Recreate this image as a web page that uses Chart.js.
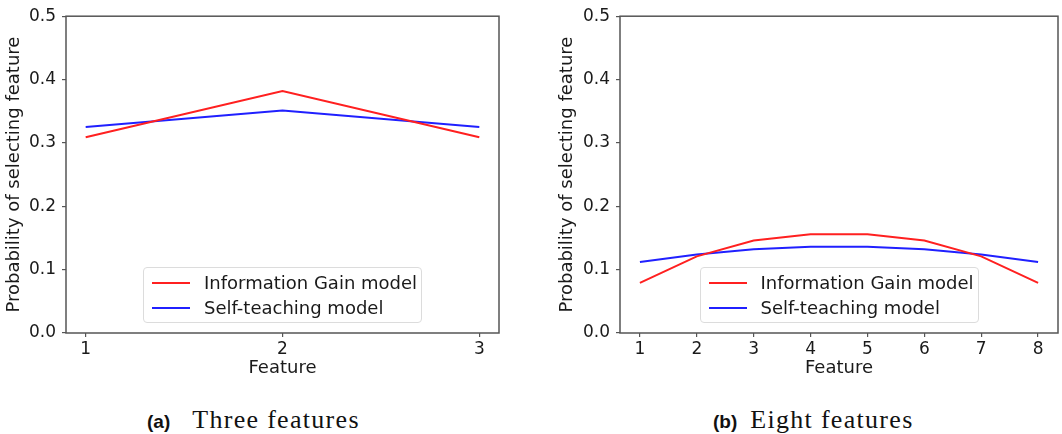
<!DOCTYPE html>
<html>
<head>
<meta charset="utf-8">
<script src="https://cdn.jsdelivr.net/npm/chart.js@4.4.1/dist/chart.umd.min.js"></script>
<style>
  html, body { margin: 0; padding: 0; background: #fff; }
  body { width: 1062px; height: 434px; position: relative; overflow: hidden; font-family: "DejaVu Sans", sans-serif; }
  .panel { position: absolute; top: 0; height: 390px; }
  #panelA { left: 0; width: 530px; }
  #panelB { left: 553px; width: 509px; }
  .legend { position: absolute; background: rgba(255, 255, 255, 0.8); border: 1px solid #dcdcdc; border-radius: 4px; padding: 2px 4px 2px 8px; font-size: 18px; color: #1a1a1a; }
  .legend .row { display: flex; align-items: center; height: 25px; white-space: nowrap; }
  .legend .swatch { width: 38px; height: 2px; margin-right: 14px; }
  .caption { position: absolute; top: 405px; white-space: nowrap; color: #111; }
  .caption b { font-family: "Liberation Sans", Arial, sans-serif; font-size: 19px; font-weight: bold; }
  .caption span { font-family: "Liberation Serif", serif; font-size: 26px; letter-spacing: 1.3px; margin-left: 22px; }
  .caption span.tight { margin-left: 13px; }
</style>
</head>
<body>
<div class="panel" id="panelA"><canvas id="chartA"></canvas></div>
<div class="panel" id="panelB"><canvas id="chartB"></canvas></div>
<div class="caption" style="left:147px"><b>(a)</b><span>Three features</span></div>
<div class="caption" style="left:713px"><b>(b)</b><span class="tight">Eight features</span></div>

<script>
  "use strict";

  // (a) three features
  const FEATURES_A = [1, 2, 3];
  const INFO_GAIN_A = [0.309, 0.382, 0.309];
  const SELF_TEACH_A = [0.325, 0.351, 0.325];

  // (b) eight features
  const FEATURES_B = [1, 2, 3, 4, 5, 6, 7, 8];
  const INFO_GAIN_B = [0.079, 0.121, 0.146, 0.156, 0.156, 0.146, 0.121, 0.079];
  const SELF_TEACH_B = [0.112, 0.124, 0.132, 0.136, 0.136, 0.132, 0.124, 0.112];

  const SERIES_LABELS = ["Information Gain model", "Self-teaching model"];
  const Y_TITLE = "Probability of selecting feature";
  const X_TITLE = "Feature";

  const colors = {
    red: "#ff2020",
    blue: "#2020ff",
    frame: "#555555",
    text: "#1a1a1a",
  };

  const FONT = "'DejaVu Sans', sans-serif";

  const framePlugin = {
    id: "frame",
    beforeDatasetsDraw(chart) {
      const { ctx, chartArea: a } = chart;
      ctx.save();
      ctx.strokeStyle = colors.frame;
      ctx.lineWidth = 1.5;
      ctx.strokeRect(a.left, a.top, a.right - a.left, a.bottom - a.top);
      ctx.restore();
    },
  };

  function toPoints(xs, ys) {
    return xs.map((x, i) => ({ x: x, y: ys[i] }));
  }

  function buildLegend(chart, panel) {
    const box = document.createElement("div");
    box.className = "legend";
    chart.data.datasets.forEach((ds) => {
      const row = document.createElement("div");
      row.className = "row";
      const sw = document.createElement("span");
      sw.className = "swatch";
      sw.style.background = ds.borderColor;
      const txt = document.createElement("span");
      txt.textContent = ds.label;
      row.appendChild(sw);
      row.appendChild(txt);
      box.appendChild(row);
    });
    panel.appendChild(box);
    const a = chart.chartArea;
    const w = box.offsetWidth;
    const h = box.offsetHeight;
    box.style.left = (a.left + (a.right - a.left - w) / 2) + "px";
    box.style.top = (a.bottom - 10 - h) + "px";
  }

  function makeChart(canvasId, features, infoGain, selfTeach, yAxisWidth, rightPad) {
    const n = features.length;
    const margin = (features[n - 1] - features[0]) * 0.05;
    return new Chart(document.getElementById(canvasId), {
      type: "line",
      data: {
        datasets: [
          {
            label: SERIES_LABELS[0],
            data: toPoints(features, infoGain),
            borderColor: colors.red,
            backgroundColor: colors.red,
            borderWidth: 2,
            pointRadius: 0,
            tension: 0,
            fill: false,
          },
          {
            label: SERIES_LABELS[1],
            data: toPoints(features, selfTeach),
            borderColor: colors.blue,
            backgroundColor: colors.blue,
            borderWidth: 2,
            pointRadius: 0,
            tension: 0,
            fill: false,
          },
        ],
      },
      options: {
        responsive: true,
        maintainAspectRatio: false,
        animation: false,
        layout: { padding: { top: 16, right: rightPad, bottom: 0, left: 0 } },
        plugins: { legend: { display: false }, tooltip: { enabled: false } },
        scales: {
          x: {
            type: "linear",
            min: features[0] - margin,
            max: features[n - 1] + margin,
            border: { display: false },
            grid: { drawOnChartArea: false, drawTicks: true, tickLength: 4, color: colors.frame, lineWidth: 1.2 },
            ticks: {
              stepSize: 1,
              includeBounds: false,
              padding: 2,
              maxRotation: 0,
              color: colors.text,
              font: { size: 17, family: FONT },
            },
            title: {
              display: true,
              text: X_TITLE,
              color: colors.text,
              font: { size: 18, family: FONT },
              padding: { top: 0, bottom: 11 },
            },
            afterFit(s) { s.height = 57; },
          },
          y: {
            min: 0,
            max: 0.5,
            border: { display: false },
            grid: { drawOnChartArea: false, drawTicks: true, tickLength: 4, color: colors.frame, lineWidth: 1.2 },
            ticks: {
              stepSize: 0.1,
              padding: 6,
              color: colors.text,
              font: { size: 17, family: FONT },
              callback(v) { return Number(v).toFixed(1); },
            },
            title: {
              display: true,
              text: Y_TITLE,
              color: colors.text,
              font: { size: 18, family: FONT },
              padding: { top: 4, bottom: 0 },
            },
            afterFit(s) { s.width = yAxisWidth; },
          },
        },
      },
      plugins: [framePlugin],
    });
  }

  const chartA = makeChart("chartA", FEATURES_A, INFO_GAIN_A, SELF_TEACH_A, 66, 31);
  const chartB = makeChart("chartB", FEATURES_B, INFO_GAIN_B, SELF_TEACH_B, 67, 4);
  buildLegend(chartA, document.getElementById("panelA"));
  buildLegend(chartB, document.getElementById("panelB"));
</script>
</body>
</html>
